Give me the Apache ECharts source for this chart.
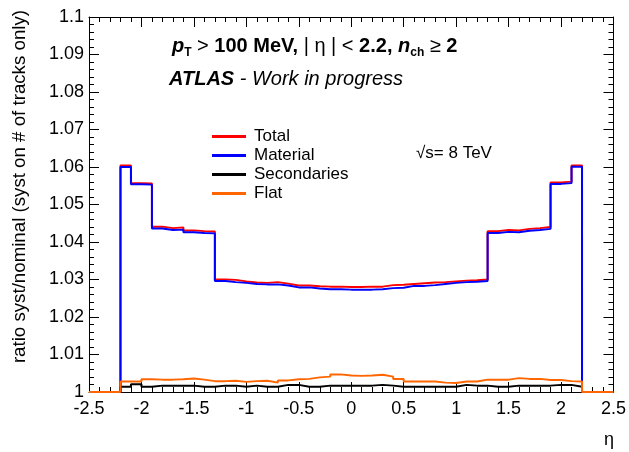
<!DOCTYPE html>
<html>
<head>
<meta charset="utf-8">
<script src="https://cdn.jsdelivr.net/npm/echarts@6.0.0/dist/echarts.min.js"></script>
<style>
  html, body { margin: 0; padding: 0; background: #fff; }
  #main { width: 629px; height: 452px; }
</style>
</head>
<body>
<div id="main"></div>
<script>
  // eta bins: 44 bins of 0.1 between -2.2 and 2.2
  const binLow = [];
  for (let i = 0; i < 44; i++) binLow.push(+(-2.2 + 0.1 * i).toFixed(1));

  const legendNames = ['Total', 'Material', 'Secondaries', 'Flat'];

  const total = [
    1.0604, 1.0557, 1.0556, 1.0441, 1.0437, 1.0439, 1.0431, 1.0429, 1.0428,
    1.0300, 1.0299, 1.0295, 1.0292, 1.0291, 1.0293, 1.0289, 1.0284, 1.0284, 1.0282, 1.0281, 1.0281, 1.0280,
    1.0280, 1.0281, 1.0281, 1.0285, 1.0286, 1.0288, 1.0290, 1.0292, 1.0293, 1.0295, 1.0297, 1.0298, 1.0300,
    1.0429, 1.0432, 1.0431, 1.0435, 1.0437, 1.0440, 1.0559, 1.0561, 1.0604
  ];
  const material = [
    1.0600, 1.0554, 1.0553, 1.0436, 1.0432, 1.0433, 1.0426, 1.0424, 1.0423,
    1.0296, 1.0293, 1.0291, 1.0288, 1.0287, 1.0287, 1.0284, 1.0279, 1.0279, 1.0276, 1.0274, 1.0274, 1.0273,
    1.0273, 1.0273, 1.0274, 1.0277, 1.0278, 1.0283, 1.0283, 1.0285, 1.0288, 1.0291, 1.0293, 1.0294, 1.0296,
    1.0424, 1.0427, 1.0426, 1.0430, 1.0432, 1.0435, 1.0555, 1.0557, 1.0601
  ];
  const secondaries = [
    1.0014, 1.0021, 1.0014, 1.0017, 1.0017, 1.0017, 1.0017, 1.0014, 1.0014, 1.0017, 1.0017,
    1.0014, 1.0017, 1.0014, 1.0014, 1.0019, 1.0019, 1.0014, 1.0014, 1.0017, 1.0017, 1.0017,
    1.0017, 1.0017, 1.0019, 1.0017, 1.0014, 1.0014, 1.0014, 1.0014, 1.0014, 1.0014, 1.0019,
    1.0017, 1.0017, 1.0014, 1.0014, 1.0017, 1.0017, 1.0017, 1.0017, 1.0019, 1.0019, 1.0014
  ];
  const flat = [
    1.0028, 1.0028, 1.0034, 1.0033, 1.0033, 1.0034, 1.0036, 1.0033, 1.0029, 1.0029, 1.0030,
    1.0027, 1.0029, 1.0030, 1.0025, 1.0031, 1.0034, 1.0035, 1.0039, 1.0041, 1.0047, 1.0044,
    1.0043, 1.0044, 1.0046, 1.0041, 1.0035, 1.0028, 1.0028, 1.0028, 1.0025, 1.0024, 1.0028,
    1.0028, 1.0033, 1.0033, 1.0033, 1.0037, 1.0035, 1.0035, 1.0032, 1.0032, 1.0029, 1.0028
  ];
  const colors = ['#ff0000', '#0000ff', '#000000', '#ff6600'];

  // ROOT-like step outline, empty bins (=1) outside |eta| < 2.2
  function histPoints(vals) {
    const pts = [[-2.5, 1]];
    vals.forEach((v, i) => pts.push([binLow[i], v]));
    pts.push([2.2, 1], [2.5, 1]);
    return pts;
  }

  const font = 'Liberation Sans';
  const mChart = echarts.init(document.getElementById('main'), null, { renderer: 'canvas' });

  const tickCommon = {
    axisLine: { show: true, onZero: false, lineStyle: { color: '#000', width: 1 } },
    axisTick: { show: true, inside: true, length: 10, lineStyle: { color: '#000' } },
    minorTick: { show: true, splitNumber: 5, length: 5, lineStyle: { color: '#000' } },
    splitLine: { show: false }
  };

  const option = {
    animation: false,
    color: colors,
    grid: { left: 89, right: 15, top: 17, bottom: 60 },
    legend: {
      orient: 'vertical',
      left: 207,
      top: 123,
      icon: 'rect',
      itemWidth: 34,
      itemHeight: 3,
      itemGap: 2,
      data: legendNames,
      textStyle: { fontFamily: font, fontSize: 17, color: '#000', padding: [0, 0, 0, 3] }
    },
    xAxis: [
      Object.assign({
        type: 'value', min: -2.5, max: 2.5, interval: 0.5,
        axisLabel: { fontFamily: font, fontSize: 18, color: '#000', margin: 8 }
      }, tickCommon),
      Object.assign({
        type: 'value', position: 'top', min: -2.5, max: 2.5, interval: 0.5,
        axisLabel: { show: false }
      }, tickCommon)
    ],
    yAxis: [
      Object.assign({
        type: 'value', min: 1, max: 1.1, interval: 0.01,
        axisLabel: {
          fontFamily: font, fontSize: 18, color: '#000', margin: 5,
          formatter: v => String(+v.toFixed(2))
        }
      }, tickCommon),
      Object.assign({
        type: 'value', position: 'right', min: 1, max: 1.1, interval: 0.01,
        axisLabel: { show: false }
      }, tickCommon)
    ],
    series: [total, material, secondaries, flat].map((vals, i) => ({
      name: legendNames[i],
      type: 'line',
      step: 'end',
      showSymbol: false,
      clip: false,
      data: histPoints(vals),
      itemStyle: { color: colors[i] },
      lineStyle: { color: colors[i], width: 2 }
    })),
    graphic: [
      {
        type: 'text', left: 172, top: 36,
        style: {
          text: '{bi|p}{sub|T}{n| > }{b|100 MeV, }{n|| η | < }{b|2.2, }{bi|n}{sub|ch}{n| ≥ }{b|2}',
          rich: {
            bi: { fontFamily: font, fontSize: 20, fontWeight: 'bold', fontStyle: 'italic', fill: '#000', lineHeight: 25 },
            b: { fontFamily: font, fontSize: 20, fontWeight: 'bold', fill: '#000', lineHeight: 25 },
            n: { fontFamily: font, fontSize: 20, fill: '#000', lineHeight: 25 },
            sub: { fontFamily: font, fontSize: 12, fontWeight: 'bold', fill: '#000', verticalAlign: 'bottom', lineHeight: 14 }
          }
        }
      },
      {
        type: 'text', left: 169, top: 69,
        style: {
          text: '{bi|ATLAS}{i| - Work in progress}',
          rich: {
            bi: { fontFamily: font, fontSize: 20, fontWeight: 'bold', fontStyle: 'italic', fill: '#000' },
            i: { fontFamily: font, fontSize: 20, fontStyle: 'italic', fill: '#000' }
          }
        }
      },
      {
        type: 'text', left: 416, top: 145,
        style: { text: '√s= 8 TeV', fontFamily: font, fontSize: 17, fill: '#000' }
      },
      {
        type: 'text', x: 614, y: 440,
        style: { text: 'η', fontFamily: font, fontSize: 18, fill: '#000', align: 'right', verticalAlign: 'middle' }
      },
      {
        type: 'text', x: 20, y: 10, rotation: Math.PI / 2,
        style: {
          text: 'ratio syst/nominal (syst on # of tracks only)',
          fontFamily: font, fontSize: 18.7, fill: '#000', align: 'right', verticalAlign: 'middle'
        }
      }
    ]
  };

  mChart.setOption(option);
  window.addEventListener('resize', mChart.resize);
</script>
</body>
</html>
